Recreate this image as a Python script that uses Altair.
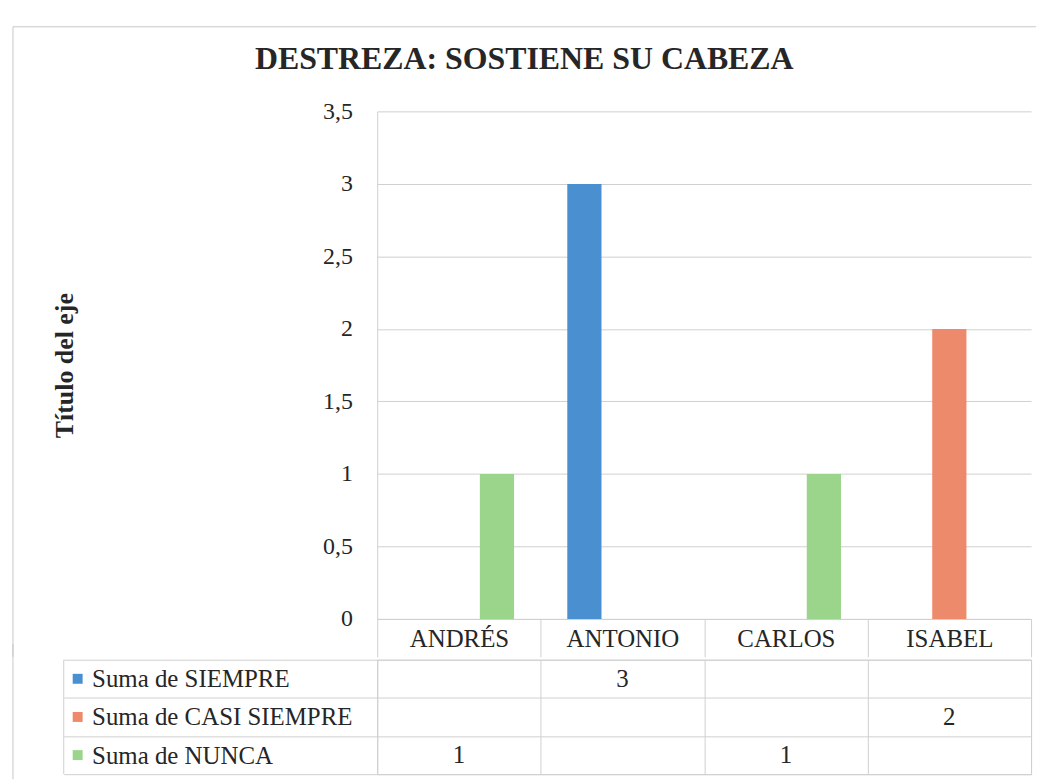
import altair as alt
import pandas as pd

# ---- data ----
categorias = ["ANDRÉS", "ANTONIO", "CARLOS", "ISABEL"]
series = ["SIEMPRE", "CASI SIEMPRE", "NUNCA"]
etiquetas = ["Suma de SIEMPRE", "Suma de CASI SIEMPRE", "Suma de NUNCA"]
colores = ["#4A90D0", "#EE8A6C", "#9AD58B"]
siempre = [None, 3, None, None]
casi_siempre = [None, None, None, 2]
nunca = [1, None, 1, None]
y_ticks = [0, 0.5, 1, 1.5, 2, 2.5, 3, 3.5]
titulo = "DESTREZA: SOSTIENE SU CABEZA"
titulo_eje = "Título del eje"

rows = []
for serie, etiqueta, valores in zip(series, etiquetas, [siempre, casi_siempre, nunca]):
    for cat, v in zip(categorias, valores):
        if v is not None:
            rows.append({"categoria": cat, "serie": serie, "fila": etiqueta, "valor": v})
df = pd.DataFrame(rows)
leg = pd.DataFrame({"serie": series, "fila": etiquetas})

# ---- layout / style ----
W, H = 657, 510
TH = 115
HEAD = 38
LABCOL = 315
FRAME_X = -366
FRAME_TOP = -85
GRID = "#D0D0D0"
FRAME = "#C8C8C8"
FONT = "Liberation Serif"
TXT = "#262626"

color = alt.Color("serie:N", scale=alt.Scale(domain=series, range=colores), legend=None)
one = alt.Data(values=[{"k": 1}])

bars = alt.Chart(df).mark_bar().encode(
    x=alt.X(
        "categoria:N",
        sort=categorias,
        scale=alt.Scale(domain=categorias, paddingInner=0, paddingOuter=0),
        axis=alt.Axis(
            title=None, labelAngle=0, labelFont=FONT, labelFontSize=25, labelColor=TXT,
            domainColor=GRID, tickColor=GRID, tickSize=HEAD, tickBand="extent",
            labelPadding=-30, labelBaseline="top", grid=False,
            minExtent=HEAD, maxExtent=HEAD,
        ),
    ),
    xOffset=alt.XOffset("serie:N", scale=alt.Scale(domain=series, paddingInner=0.1, paddingOuter=0.7)),
    y=alt.Y(
        "valor:Q",
        scale=alt.Scale(domain=[0, 3.5], nice=False),
        axis=alt.Axis(
            title=titulo_eje, values=y_ticks,
            labelExpr="replace(toString(datum.value), '.', ',')",
            labelFont=FONT, labelFontSize=24, labelColor=TXT, labelPadding=25,
            ticks=False, domainColor=GRID, grid=True, gridColor=GRID,
            titleFont=FONT, titleFontSize=26, titleFontWeight="bold", titleColor=TXT,
            titlePadding=246,
        ),
    ),
    color=color,
)

frame_left_a = alt.Chart(one).mark_rule(color=FRAME, strokeWidth=1).encode(
    x=alt.value(FRAME_X), y=alt.value(FRAME_TOP), y2=alt.value(H + HEAD)
)
frame_top = alt.Chart(one).mark_rule(color=FRAME, strokeWidth=1).encode(
    x=alt.value(FRAME_X), x2=alt.value(W + 5), y=alt.value(FRAME_TOP)
)

bar_chart = alt.layer(bars, frame_left_a, frame_top).properties(
    width=W, height=H, view=alt.ViewBackground(stroke=None)
)

# ---- data table under the chart ----
ty = alt.Y(
    "fila:N",
    sort=etiquetas,
    scale=alt.Scale(domain=etiquetas, paddingInner=0, paddingOuter=0),
    axis=alt.Axis(
        title=None, labelAlign="left", labelBaseline="middle", labelPadding=-28,
        labelFont=FONT, labelFontSize=25, labelColor=TXT, labelLimit=0,
        tickSize=LABCOL, tickBand="extent", tickColor=GRID,
        domain=False, grid=True, gridColor=GRID,
    ),
)
tx = alt.X(
    "categoria:N",
    sort=categorias,
    scale=alt.Scale(domain=categorias, paddingInner=0, paddingOuter=0),
    axis=alt.Axis(title=None, labels=False, ticks=False, domain=False, grid=True,
                  gridColor=GRID, tickBand="extent", minExtent=0, maxExtent=0),
)

cells = alt.Chart(df).mark_text(font=FONT, fontSize=25, color=TXT).encode(
    x=tx, y=ty, text="valor:Q"
)
squares = alt.Chart(leg).mark_square(size=100, opacity=1).encode(
    x=alt.value(-301), y=alt.Y("fila:N", sort=etiquetas), color=color
)
lab_border = alt.Chart(one).mark_rule(color=GRID, strokeWidth=1).encode(
    x=alt.value(-LABCOL), y=alt.value(0), y2=alt.value(TH)
)
frame_left_b = alt.Chart(one).mark_rule(color=FRAME, strokeWidth=1).encode(
    x=alt.value(FRAME_X), y=alt.value(-16), y2=alt.value(TH + 5)
)

table_chart = alt.layer(cells, squares, lab_border, frame_left_b).properties(
    width=W, height=TH, view=alt.ViewBackground(stroke=GRID)
)

chart = alt.vconcat(bar_chart, table_chart, spacing=-15).properties(
    title=alt.Title(titulo, font=FONT, fontSize=32, fontWeight="bold", color=TXT,
                    anchor="middle", offset=-75, baseline="alphabetic"),
    padding={"left": 4, "top": 16, "right": 5, "bottom": 0},
).resolve_scale(color="shared")

chart.save("out.html", embed_options={"renderer": "svg", "actions": False})
